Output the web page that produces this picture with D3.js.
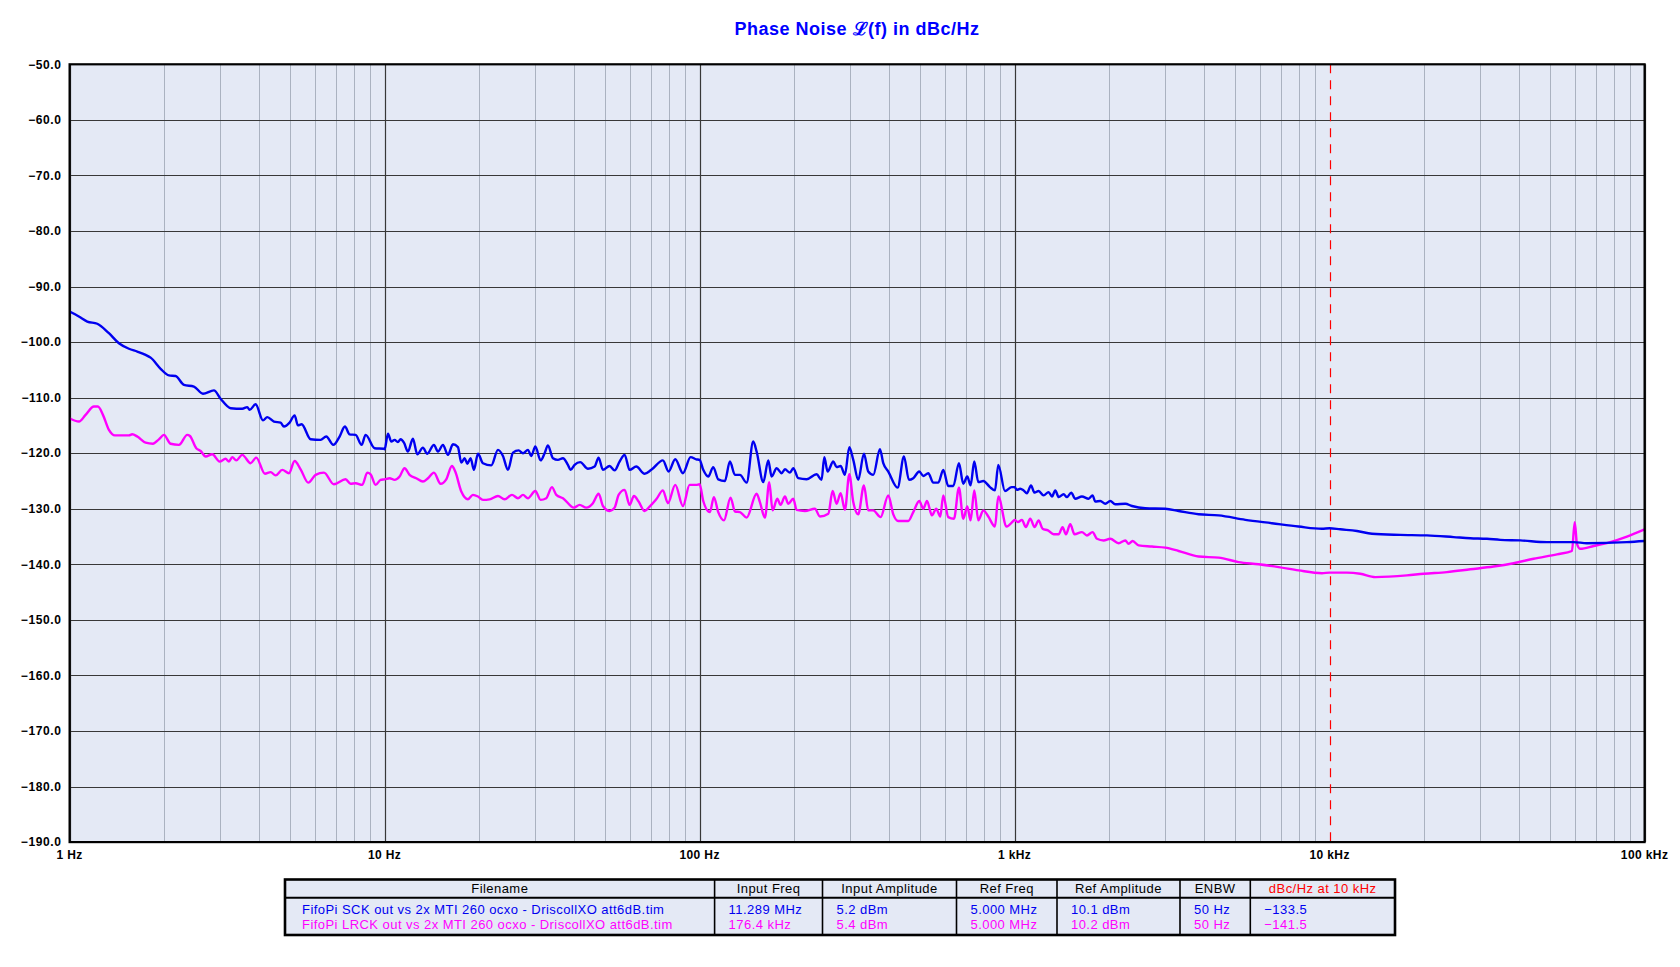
<!DOCTYPE html>
<html>
<head>
<meta charset="utf-8">
<script src="https://cdn.jsdelivr.net/npm/d3@7/dist/d3.min.js"></script>
<style>
html,body{margin:0;padding:0;background:#fff;}
svg{display:block;font-family:"Liberation Sans",Arial,sans-serif;}
</style>
</head>
<body>
<svg id="chart" width="1680" height="967"></svg>
<script>
// ---------------- DATA ----------------
const chartTitle = "Phase Noise \u2112(f) in dBc/Hz";
const yTicks = [-190,-180,-170,-160,-150,-140,-130,-120,-110,-100,-90,-80,-70,-60,-50];
const xTickValues = [1,10,100,1000,10000,100000];
const xTickLabels = ["1 Hz","10 Hz","100 Hz","1 kHz","10 kHz","100 kHz"];
const markerFreq = 10000;

const sckFreq = [1.0,1.07,1.138,1.224,1.333,1.434,1.543,1.64,1.743,1.808,1.945,2.067,2.17,2.307,2.481,2.65,2.872,3.015,3.245,3.533,3.665,3.728,3.895,4.111,4.242,4.454,4.675,4.791,4.994,5.18,5.308,5.452,5.823,6.264,6.529,6.871,7.197,7.482,7.743,8.09,8.453,8.704,9.296,9.952,
10.0,10.25,10.5,10.76,11.02,11.24,11.52,11.86,12.3,12.7,13.23,13.66,14.34,14.77,15.32,15.89,16.48,17.09,17.52,17.95,18.3,18.75,19.21,19.79,20.52,21.81,22.9,23.75,24.64,25.56,26.64,27.5,28.51,29.22,30.09,31.28,32.21,33.0,34.23,35.5,36.83,38.19,38.95,40.1,41.8,44.21,46.42,47.8,49.33,51.8,53.73,55.72,57.8,59.95,62.94,66.9,70.25,76.48,79.7,83.7,88.54,93.63,97.59,
100,102.7,106.5,110.5,114.6,120.3,124.8,129.5,134.3,141,148,151.7,159.3,165.2,169.3,175.6,182.1,186.6,193.5,198.3,205.7,218.6,235.1,243.9,248.8,254.9,265.7,272.2,280.3,289.3,298.7,307.5,318.9,332.4,343.1,355.9,373.7,382.9,397.2,425.2,445.4,461.9,476.8,498.2,513,532.1,551.9,572.5,593.7,615.8,638.8,665.8,687.1,707.5,725,744.7,767,795.5,835.2,866.3,887.6,931.9,978.3,
1000,1017,1042,1068,1094,1127,1157,1192,1236,1282,1314,1346,1380,1431,1466,1513,1558,1636,1718,1768,1804,1871,1941,2012,2087,2246,2358,2599,3009,3316,3838,4443,5400,6561,7970,9456,
10000,10810,12210,13630,16760,20370,24760,27970,31590,34830,40300,48980,59520,65610,87880,100000];
const sckDb = [-94.5,-95.4,-96.3,-96.7,-98.4,-100.2,-101.2,-101.7,-102.3,-102.8,-104.8,-106.0,-106.1,-107.7,-108.0,-109.3,-108.7,-110.2,-111.9,-112.0,-111.7,-112.2,-111.2,-114.1,-113.5,-114.3,-114.5,-115.2,-114.5,-113.2,-115.0,-114.8,-117.5,-117.6,-117.0,-118.5,-117.0,-115.2,-116.6,-116.7,-118.5,-116.7,-119.1,-119.2,
-119.3,-116.5,-117.9,-117.6,-118.0,-117.5,-118.1,-119.7,-117.4,-120.2,-119.0,-120.1,-118.5,-119.7,-118.5,-120.3,-118.4,-118.9,-121.7,-120.9,-121.9,-120.9,-123.0,-120.1,-121.8,-122.2,-119.4,-120.5,-123.0,-119.9,-119.5,-120.0,-119.4,-120.5,-118.8,-121.3,-120.0,-118.6,-120.9,-121.2,-120.9,-122.1,-123.0,-122.1,-121.6,-122.8,-122.4,-120.8,-123.0,-122.3,-123.1,-121.5,-120.3,-123.0,-122.4,-123.7,-123.0,-121.3,-123.3,-121.1,-123.6,-120.7,-121.1,
-121.2,-123.0,-124.2,-122.5,-124.7,-125.0,-121.5,-123.9,-123.9,-125.3,-117.9,-119.7,-125.2,-121.3,-124.2,-122.7,-123.6,-122.9,-123.5,-122.7,-124.5,-124.7,-123.8,-124.8,-120.7,-123.3,-121.5,-122.5,-122.3,-123.9,-118.9,-121.2,-124.8,-120.1,-123.3,-123.9,-119.3,-121.8,-123.3,-126.2,-120.6,-124.8,-124.5,-123.3,-124.1,-123.6,-125.3,-125.3,-123.0,-125.9,-125.9,-121.8,-125.5,-124.2,-125.8,-121.5,-125.2,-125.0,-126.1,-126.7,-122.1,-126.8,-126.1,
-126.1,-126.6,-126.4,-126.7,-127.2,-125.8,-127.1,-126.8,-127.6,-127.0,-127.8,-126.7,-127.9,-127.4,-127.9,-127.1,-128.2,-127.8,-128.2,-127.6,-128.7,-128.6,-129.1,-128.6,-129.2,-129.1,-129.5,-129.9,-130.0,-130.4,-131.0,-131.2,-132.0,-132.6,-133.2,-133.6,
-133.5,-133.7,-134.0,-134.5,-134.7,-134.8,-135.1,-135.3,-135.4,-135.6,-135.7,-136.0,-136.0,-136.2,-136.0,-135.8];

const lrckFreq = [1.0,1.071,1.124,1.195,1.23,1.276,1.333,1.393,1.543,1.58,1.64,1.743,1.839,1.921,1.993,2.092,2.224,2.363,2.41,2.524,2.606,2.703,2.837,2.993,3.128,3.206,3.284,3.381,3.533,3.755,3.913,4.17,4.346,4.508,4.733,4.97,5.18,5.412,5.725,6.039,6.418,6.905,7.518,7.798,8.09,8.495,8.81,9.028,9.363,9.712,
10.0,10.37,10.76,11.16,11.57,12.0,12.6,13.23,13.73,14.34,15.06,15.69,16.36,16.76,17.52,18.39,19.07,19.79,20.52,21.54,22.9,24.04,25.37,26.5,27.5,28.51,30.09,31.28,32.6,33.98,35.08,36.83,39.91,41.59,43.68,45.85,47.8,49.33,51.8,53.73,55.33,57.8,59.95,61.88,64.04,66.9,69.4,72.86,76.48,79.33,83.7,88.54,92.96,97.59,
100,102.7,107.8,111,114.6,119.5,125.4,129.5,134.3,141,151.7,155.4,161.2,166.4,170.5,176.4,180.8,186.6,191.2,198.3,203.2,215.9,232.3,241,256.2,264.4,272.2,280.3,289.3,298.7,307.5,318.9,332.4,343.1,355.9,375.5,397.2,412,427.2,459.6,476.8,498.2,513,527,546.6,564,580.8,593.7,615.8,641.9,665.8,687.1,707.5,725,744.7,767,795.5,825,866.3,887.6,943.2,990.4,
1000,1025,1055,1086,1121,1157,1192,1227,1276,1330,1380,1420,1455,1502,1550,1636,1697,1768,1826,1917,2012,2139,2246,2301,2370,2476,2729,3009,3316,3838,4443,5141,5952,6890,7970,9456,
10000,11350,12510,13960,17600,19880,23580,27970,33160,38380,44430,52700,58800,60000,60990,62500,68900,77800,87880,100000];
const lrckDb = [-113.7,-114.3,-113.1,-111.6,-111.6,-113.1,-115.8,-116.8,-116.8,-116.6,-117.0,-118.1,-118.3,-117.5,-116.7,-118.3,-118.5,-116.7,-116.9,-119.1,-119.6,-120.6,-120.2,-121.5,-121.0,-121.5,-120.7,-121.3,-120.3,-121.8,-120.8,-123.7,-123.4,-124.0,-123.0,-123.6,-121.4,-122.9,-125.3,-123.9,-123.5,-125.6,-124.7,-125.5,-125.4,-125.7,-123.5,-123.8,-125.7,-124.8,
-124.7,-124.5,-124.8,-124.2,-122.7,-123.9,-124.5,-125.1,-124.5,-123.5,-125.5,-124.7,-122.3,-123.3,-126.9,-128.3,-127.5,-127.8,-128.4,-128.3,-127.7,-128.3,-127.5,-128.1,-127.5,-128.1,-126.8,-128.4,-128.1,-126.1,-127.5,-128.1,-129.8,-129.3,-129.8,-129.0,-127.3,-129.5,-130.4,-129.8,-127.5,-126.6,-129.3,-127.7,-128.7,-130.4,-129.6,-128.3,-126.7,-129.0,-125.7,-129.5,-125.7,-125.7,
-125.6,-128.6,-130.6,-127.9,-130.6,-132.1,-128.0,-130.5,-130.6,-131.6,-127.3,-128.8,-131.6,-125.2,-130.3,-128.2,-129.3,-127.8,-129.1,-128.2,-130.2,-130.4,-130.0,-131.4,-130.9,-126.8,-129.1,-127.2,-130.2,-123.8,-128.8,-131.0,-125.8,-130.3,-130.3,-131.5,-127.6,-131.0,-132.2,-132.2,-130.6,-128.6,-130.0,-128.6,-131.2,-130.0,-131.4,-127.6,-131.5,-131.8,-126.2,-131.8,-129.6,-132.1,-126.7,-132.1,-130.3,-131.4,-133.2,-127.8,-133.2,-132.2,
-132.0,-132.4,-132.0,-133.3,-131.8,-133.3,-132.1,-133.6,-133.9,-134.6,-134.6,-133.3,-134.6,-132.8,-134.6,-134.2,-134.8,-134.2,-135.4,-135.7,-135.4,-136.2,-135.7,-136.3,-135.8,-136.6,-136.8,-137.0,-137.6,-138.6,-138.8,-139.6,-140.0,-140.5,-141.1,-141.6,
-141.5,-141.5,-141.7,-142.3,-142.0,-141.7,-141.4,-140.9,-140.4,-139.8,-139.0,-138.2,-137.6,-132.4,-136.3,-137.2,-136.7,-136.0,-135.0,-133.7];

const tableHeaders = ["Filename","Input Freq","Input Amplitude","Ref Freq","Ref Amplitude","ENBW","dBc/Hz at 10 kHz"];
const sckRow = ["FifoPi SCK out vs 2x MTI 260 ocxo - DriscollXO att6dB.tim","11.289 MHz","5.2 dBm","5.000 MHz","10.1 dBm","50 Hz","\u2212133.5"];
const lrckRow = ["FifoPi LRCK out vs 2x MTI 260 ocxo - DriscollXO att6dB.tim","176.4 kHz","5.4 dBm","5.000 MHz","10.2 dBm","50 Hz","\u2212141.5"];

// ---------------- LAYOUT ----------------
const COLORS = {sck:"#0000f0", lrck:"#ff00ff", bg:"#e4e9f5", minor:"#aab2c0", major:"#383838", marker:"#ff0000", title:"#0000ff"};
const plot = {left:69.6, right:1644.6, top:64.3, bottom:842.1};

const svg = d3.select("#chart");
const x = d3.scaleLog().domain([1,1e5]).range([plot.left, plot.right]);
const y = d3.scaleLinear().domain([-190,-50]).range([plot.bottom, plot.top]);

// title
svg.append("text").attr("x", 857).attr("y", 35)
  .attr("text-anchor","middle").attr("fill",COLORS.title)
  .style("font-size","18px").style("font-weight","bold").style("letter-spacing","0.5px")
  .text(chartTitle);

// background
svg.append("rect").attr("x",plot.left).attr("y",plot.top)
  .attr("width",plot.right-plot.left).attr("height",plot.bottom-plot.top)
  .attr("fill",COLORS.bg);

// minor vertical grid
const minorTicks = x.ticks().filter(v => !xTickValues.includes(v));
svg.append("g").selectAll("line").data(minorTicks).join("line")
  .attr("x1",d=>Math.round(x(d))+0.5).attr("x2",d=>Math.round(x(d))+0.5)
  .attr("y1",plot.top).attr("y2",plot.bottom)
  .attr("stroke",COLORS.minor).attr("stroke-width",1);

// major vertical grid (marker replaces the 10 kHz line)
svg.append("g").selectAll("line").data(xTickValues.filter(v => v !== markerFreq)).join("line")
  .attr("x1",d=>Math.round(x(d))+0.5).attr("x2",d=>Math.round(x(d))+0.5)
  .attr("y1",plot.top).attr("y2",plot.bottom)
  .attr("stroke",COLORS.major).attr("stroke-width",1.2);

// horizontal grid
svg.append("g").selectAll("line").data(yTicks).join("line")
  .attr("x1",plot.left).attr("x2",plot.right)
  .attr("y1",d=>Math.round(y(d))+0.5).attr("y2",d=>Math.round(y(d))+0.5)
  .attr("stroke",COLORS.major).attr("stroke-width",1.2);

// marker
svg.append("line").attr("x1",Math.round(x(markerFreq))+0.5).attr("x2",Math.round(x(markerFreq))+0.5)
  .attr("y1",plot.top).attr("y2",plot.bottom)
  .attr("stroke",COLORS.marker).attr("stroke-width",1.2).attr("stroke-dasharray","9,7");

// traces
const line = d3.line().x(d=>x(d[0])).y(d=>y(d[1])).curve(d3.curveMonotoneX);
svg.append("clipPath").attr("id","pc").append("rect")
  .attr("x",plot.left).attr("y",plot.top).attr("width",plot.right-plot.left).attr("height",plot.bottom-plot.top);
const traces = [
  {f:lrckFreq, v:lrckDb, c:COLORS.lrck},
  {f:sckFreq, v:sckDb, c:COLORS.sck}
];
traces.forEach(t=>{
  const pts = t.f.map((f,i)=>[f,t.v[i]]);
  svg.append("path").datum(pts).attr("d",line).attr("fill","none")
    .attr("stroke",t.c).attr("stroke-width",2.4).attr("stroke-linejoin","round")
    .attr("clip-path","url(#pc)");
});

// border
svg.append("rect").attr("x",plot.left).attr("y",plot.top)
  .attr("width",plot.right-plot.left).attr("height",plot.bottom-plot.top)
  .attr("fill","none").attr("stroke","#000").attr("stroke-width",2.2);

// y axis labels
const fmtY = d3.format(".1f");
svg.append("g").selectAll("text").data(yTicks).join("text")
  .attr("x",61.5).attr("y",d=>y(d)).attr("dy","0.35em")
  .attr("text-anchor","end").attr("fill","#000")
  .style("font-size","12px").style("font-weight","bold").style("letter-spacing","0.6px")
  .text(d=>fmtY(d));

// x axis labels
svg.append("g").selectAll("text").data(xTickValues).join("text")
  .attr("x",d=>x(d)).attr("y",858.5)
  .attr("text-anchor","middle").attr("fill","#000")
  .style("font-size","12px").style("font-weight","bold").style("letter-spacing","0.4px")
  .text((d,i)=>xTickLabels[i]);

// table
const colEdges = [285, 714.6, 822.5, 956.5, 1057, 1180, 1250.3, 1395];
const tTop = 879.5, tHead = 897.7, tBot = 935;
const tg = svg.append("g");
tg.append("rect").attr("x",colEdges[0]).attr("y",tTop)
  .attr("width",colEdges[7]-colEdges[0]).attr("height",tBot-tTop).attr("fill",COLORS.bg);
tg.selectAll("line.col").data(colEdges.slice(1,-1)).join("line")
  .attr("x1",d=>d).attr("x2",d=>d).attr("y1",tTop).attr("y2",tBot)
  .attr("stroke","#000").attr("stroke-width",1.6);
tg.append("line").attr("x1",colEdges[0]).attr("x2",colEdges[7]).attr("y1",tHead).attr("y2",tHead)
  .attr("stroke","#000").attr("stroke-width",2);
tg.append("rect").attr("x",colEdges[0]).attr("y",tTop)
  .attr("width",colEdges[7]-colEdges[0]).attr("height",tBot-tTop)
  .attr("fill","none").attr("stroke","#000").attr("stroke-width",2.6);

tg.selectAll("text.h").data(tableHeaders).join("text")
  .attr("x",(d,i)=>(colEdges[i]+colEdges[i+1])/2).attr("y",(tTop+tHead)/2).attr("dy","0.35em")
  .attr("text-anchor","middle").attr("fill",(d,i)=> i===6 ? COLORS.marker : "#000")
  .style("font-size","13px").style("letter-spacing","0.45px")
  .text(d=>d);

[[sckRow,909.3,COLORS.sck],[lrckRow,924.7,COLORS.lrck]].forEach(([row,yy,c])=>{
  tg.append("g").selectAll("text").data(row).join("text")
    .attr("x",(d,i)=> i===0 ? colEdges[0]+17 : colEdges[i]+14)
    .attr("y",yy).attr("dy","0.35em").attr("fill",c)
    .style("font-size","13px").style("letter-spacing","0.45px")
    .text(d=>d);
});
</script>
</body>
</html>
